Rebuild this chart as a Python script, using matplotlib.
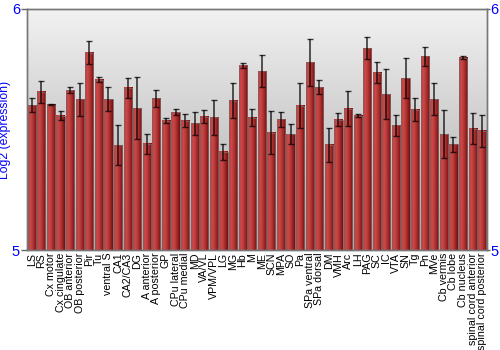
import numpy as np
import matplotlib
matplotlib.use("Agg")
import matplotlib.pyplot as plt
from matplotlib.colors import LinearSegmentedColormap

plt.rcParams["font.family"] = ["Liberation Sans", "DejaVu Sans"]

categories = ["LS", "RS", "Cx motor", "Cx cingulate", "OB anterior", "OB posterior", "Pir", "Tu",
              "ventral S", "CA1", "CA2/CA3", "DG", "A anterior", "A posterior", "GP", "CPu lateral",
              "CPu medial", "MD", "VA/VL", "VPM/VPL", "LG", "MG", "Hb", "M", "ME", "SCN", "MPA", "SO",
              "Pa", "SPa ventral", "SPa dorsal", "DM", "VMH", "Arc", "LH", "PAG", "SC", "IC", "VTA",
              "SN", "Tg", "Pn", "MVe", "Cb vermis", "Cb lobe", "Cb nucleus",
              "spinal cord anterior", "spinal cord posterior"]
values = [5.601, 5.657, 5.602, 5.557, 5.663, 5.626, 5.819, 5.706,
          5.626, 5.435, 5.673, 5.589, 5.440, 5.629, 5.537, 5.571,
          5.537, 5.526, 5.553, 5.550, 5.407, 5.620, 5.767, 5.548, 5.742, 5.486, 5.543, 5.481,
          5.598, 5.778, 5.676, 5.436, 5.540, 5.586, 5.558, 5.837, 5.735, 5.647, 5.517,
          5.713, 5.582, 5.803, 5.626, 5.481, 5.438, 5.798,
          5.503, 5.494]
errors = [0.028, 0.046, 0.002, 0.018, 0.012, 0.069, 0.049, 0.010,
          0.050, 0.084, 0.042, 0.128, 0.040, 0.035, 0.011, 0.012,
          0.028, 0.048, 0.028, 0.071, 0.034, 0.072, 0.010, 0.035, 0.066, 0.089, 0.031, 0.041,
          0.093, 0.096, 0.028, 0.072, 0.027, 0.073, 0.008, 0.046, 0.043, 0.103, 0.042,
          0.082, 0.048, 0.040, 0.066, 0.100, 0.030, 0.007,
          0.065, 0.065]
y_ticks = [5, 6]

blue = "#0000ff"
fig = plt.figure(figsize=(5, 3.5), dpi=100)
ax = fig.add_axes([0.054, 0.2857, 0.92, 0.6886])
ymin, ymax = 5, 6
n = len(categories)
x = np.arange(n)
ax.set_xlim(-0.5, n - 0.5)
ax.set_ylim(ymin, ymax)

# background gradient
bg = LinearSegmentedColormap.from_list("bg", ["#a8a8a8", "#f2f2f2"])
grad = np.linspace(0, 1, 256).reshape(-1, 1)
ax.imshow(grad, cmap=bg, origin="lower", aspect="auto",
          extent=[-0.5, n - 0.5, ymin, ymax], zorder=0)

width = 0.86
bars = ax.bar(x, np.array(values) - ymin, bottom=ymin, width=width,
              color="none", edgecolor="#8a6060", linewidth=0.6, zorder=2)
barcmap = LinearSegmentedColormap.from_list(
    "bar", ["#b53535", "#cc4a4a", "#b83a3a", "#9a2424", "#6e1010"])
hgrad = np.linspace(0, 1, 64).reshape(1, -1)
for b in bars:
    x0 = b.get_x()
    ax.imshow(hgrad, cmap=barcmap, aspect="auto",
              extent=[x0, x0 + b.get_width(), ymin, b.get_y() + b.get_height()],
              zorder=1.5)

ax.errorbar(x, values, yerr=errors, fmt="none", ecolor="black", alpha=0.75,
            elinewidth=1.2, capsize=2.5, capthick=1.0, zorder=3)

ax.set_xticks(x)
ax.set_xticklabels(categories, rotation=90, fontsize=7.7)
ax.tick_params(axis="x", length=0, pad=2)
ax.set_yticks(y_ticks)
ax.set_yticklabels([str(t) for t in y_ticks], color=blue, fontsize=10.5)
ax.tick_params(axis="y", colors="#666666", labelcolor=blue, length=4, width=1, pad=1)
ax.set_ylabel("Log2 (expression)", color=blue, fontsize=8.8, labelpad=1)

ax2 = ax.twinx()
ax2.set_ylim(ymin, ymax)
ax2.set_yticks(y_ticks)
ax2.set_yticklabels([str(t) for t in y_ticks], color=blue, fontsize=10.5)
ax2.tick_params(axis="y", colors="#666666", labelcolor=blue, length=2, width=1, pad=0.5)

for a in (ax, ax2):
    for s in a.spines.values():
        s.set_color("#777777")
        s.set_linewidth(1)

fig.savefig("out.png", dpi=100)
